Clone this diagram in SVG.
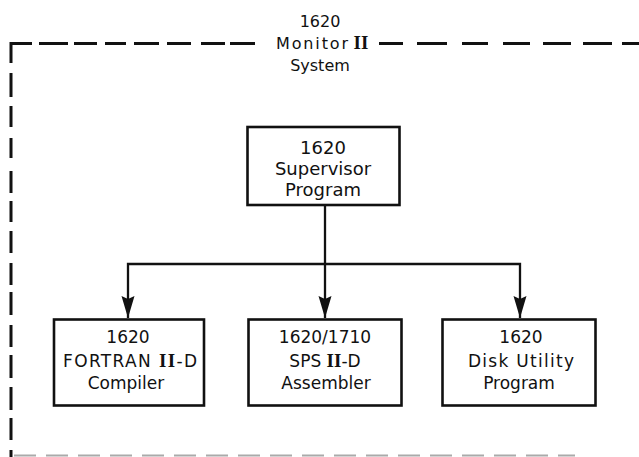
<svg xmlns="http://www.w3.org/2000/svg" width="639" height="457" viewBox="0 0 639 457">
<defs>
<style>
.t{font-family:"DejaVu Sans","Liberation Sans",sans-serif;fill:#111;text-anchor:middle}
.rn{font-family:"Liberation Serif",serif;font-weight:bold;font-size:19px}
.box{fill:#fff;stroke:#111;stroke-width:2.6}
.cn{fill:none;stroke:#111;stroke-width:2.3}
.dash{fill:none;stroke:#111;stroke-width:3}
</style>
<marker id="ah" markerUnits="userSpaceOnUse" markerWidth="24" markerHeight="14" viewBox="0 0 24 14" refX="23" refY="7" orient="auto">
<path d="M1,0.5 L4,7 L1,13.5 L23,7 Z" fill="#111"/>
</marker>
</defs>
<rect width="639" height="457" fill="#fff"/>
<g id="frame">
<path class="dash" d="M11,63 V43.5 H32 M39,43.5 H68 M74,43.5 H97 M105,43.5 H126 M134,43.5 H159 M167,43.5 H191 M201,43.5 H225 M230,43.5 H255 M379,43.5 H403 M417,43.5 H447 M462,43.5 H488 M503,43.5 H530 M543,43.5 H571 M583,43.5 H612 M622,43.5 H639"/>
<path class="dash" d="M11,73 V97 M11,106 V127 M11,138 V158 M11,171 V193 M11,201 V222 M11,231 V253 M11,263 V285 M11,292 V315 M11,325 V347 M11,355 V378 M11,387 V410 M11,418 V440 M11,450 V457"/>
<path d="M14,455.5 H575" fill="none" stroke="#aaa" stroke-width="2" stroke-dasharray="22 10"/>
<text class="t" font-size="16"><tspan x="320" y="27">1620</tspan></text>
<text class="t" font-size="16" x="312" y="49" textLength="72" lengthAdjust="spacing">Monitor</text>
<text class="t rn" x="361" y="49">II</text>
<text class="t" font-size="16"><tspan x="320" y="71">System</tspan></text>
</g>
<g id="connectors">
<path class="cn" d="M325,205 V318" marker-end="url(#ah)"/>
<path class="cn" d="M325,264 H128 V318" marker-end="url(#ah)"/>
<path class="cn" d="M325,264 H520 V318" marker-end="url(#ah)"/>
</g>
<g id="supervisor">
<rect class="box" x="247.5" y="127" width="152" height="78"/>
<text class="t" font-size="18"><tspan x="323" y="154">1620</tspan><tspan x="323" y="175">Supervisor</tspan><tspan x="323" y="196">Program</tspan></text>
</g>
<g id="fortran">
<rect class="box" x="54" y="319.5" width="150" height="86"/>
<text class="t" font-size="17"><tspan x="128" y="343">1620</tspan></text>
<text class="t" font-size="17" x="130" y="366.5" textLength="134" lengthAdjust="spacing">FORTRAN <tspan class="rn">II</tspan>-D</text>
<text class="t" font-size="17"><tspan x="126" y="389">Compiler</tspan></text>
</g>
<g id="sps">
<rect class="box" x="248.5" y="319.5" width="153" height="86"/>
<text class="t" font-size="17"><tspan x="325" y="343">1620/1710</tspan><tspan x="325" y="366.5">SPS <tspan class="rn">II</tspan>-D</tspan><tspan x="326" y="389">Assembler</tspan></text>
</g>
<g id="disk">
<rect class="box" x="442.5" y="319.5" width="153" height="86"/>
<text class="t" font-size="17"><tspan x="521" y="343">1620</tspan></text>
<text class="t" font-size="17" x="521" y="366.5" textLength="106" lengthAdjust="spacing">Disk Utility</text>
<text class="t" font-size="17"><tspan x="519" y="389">Program</tspan></text>
</g>
</svg>
